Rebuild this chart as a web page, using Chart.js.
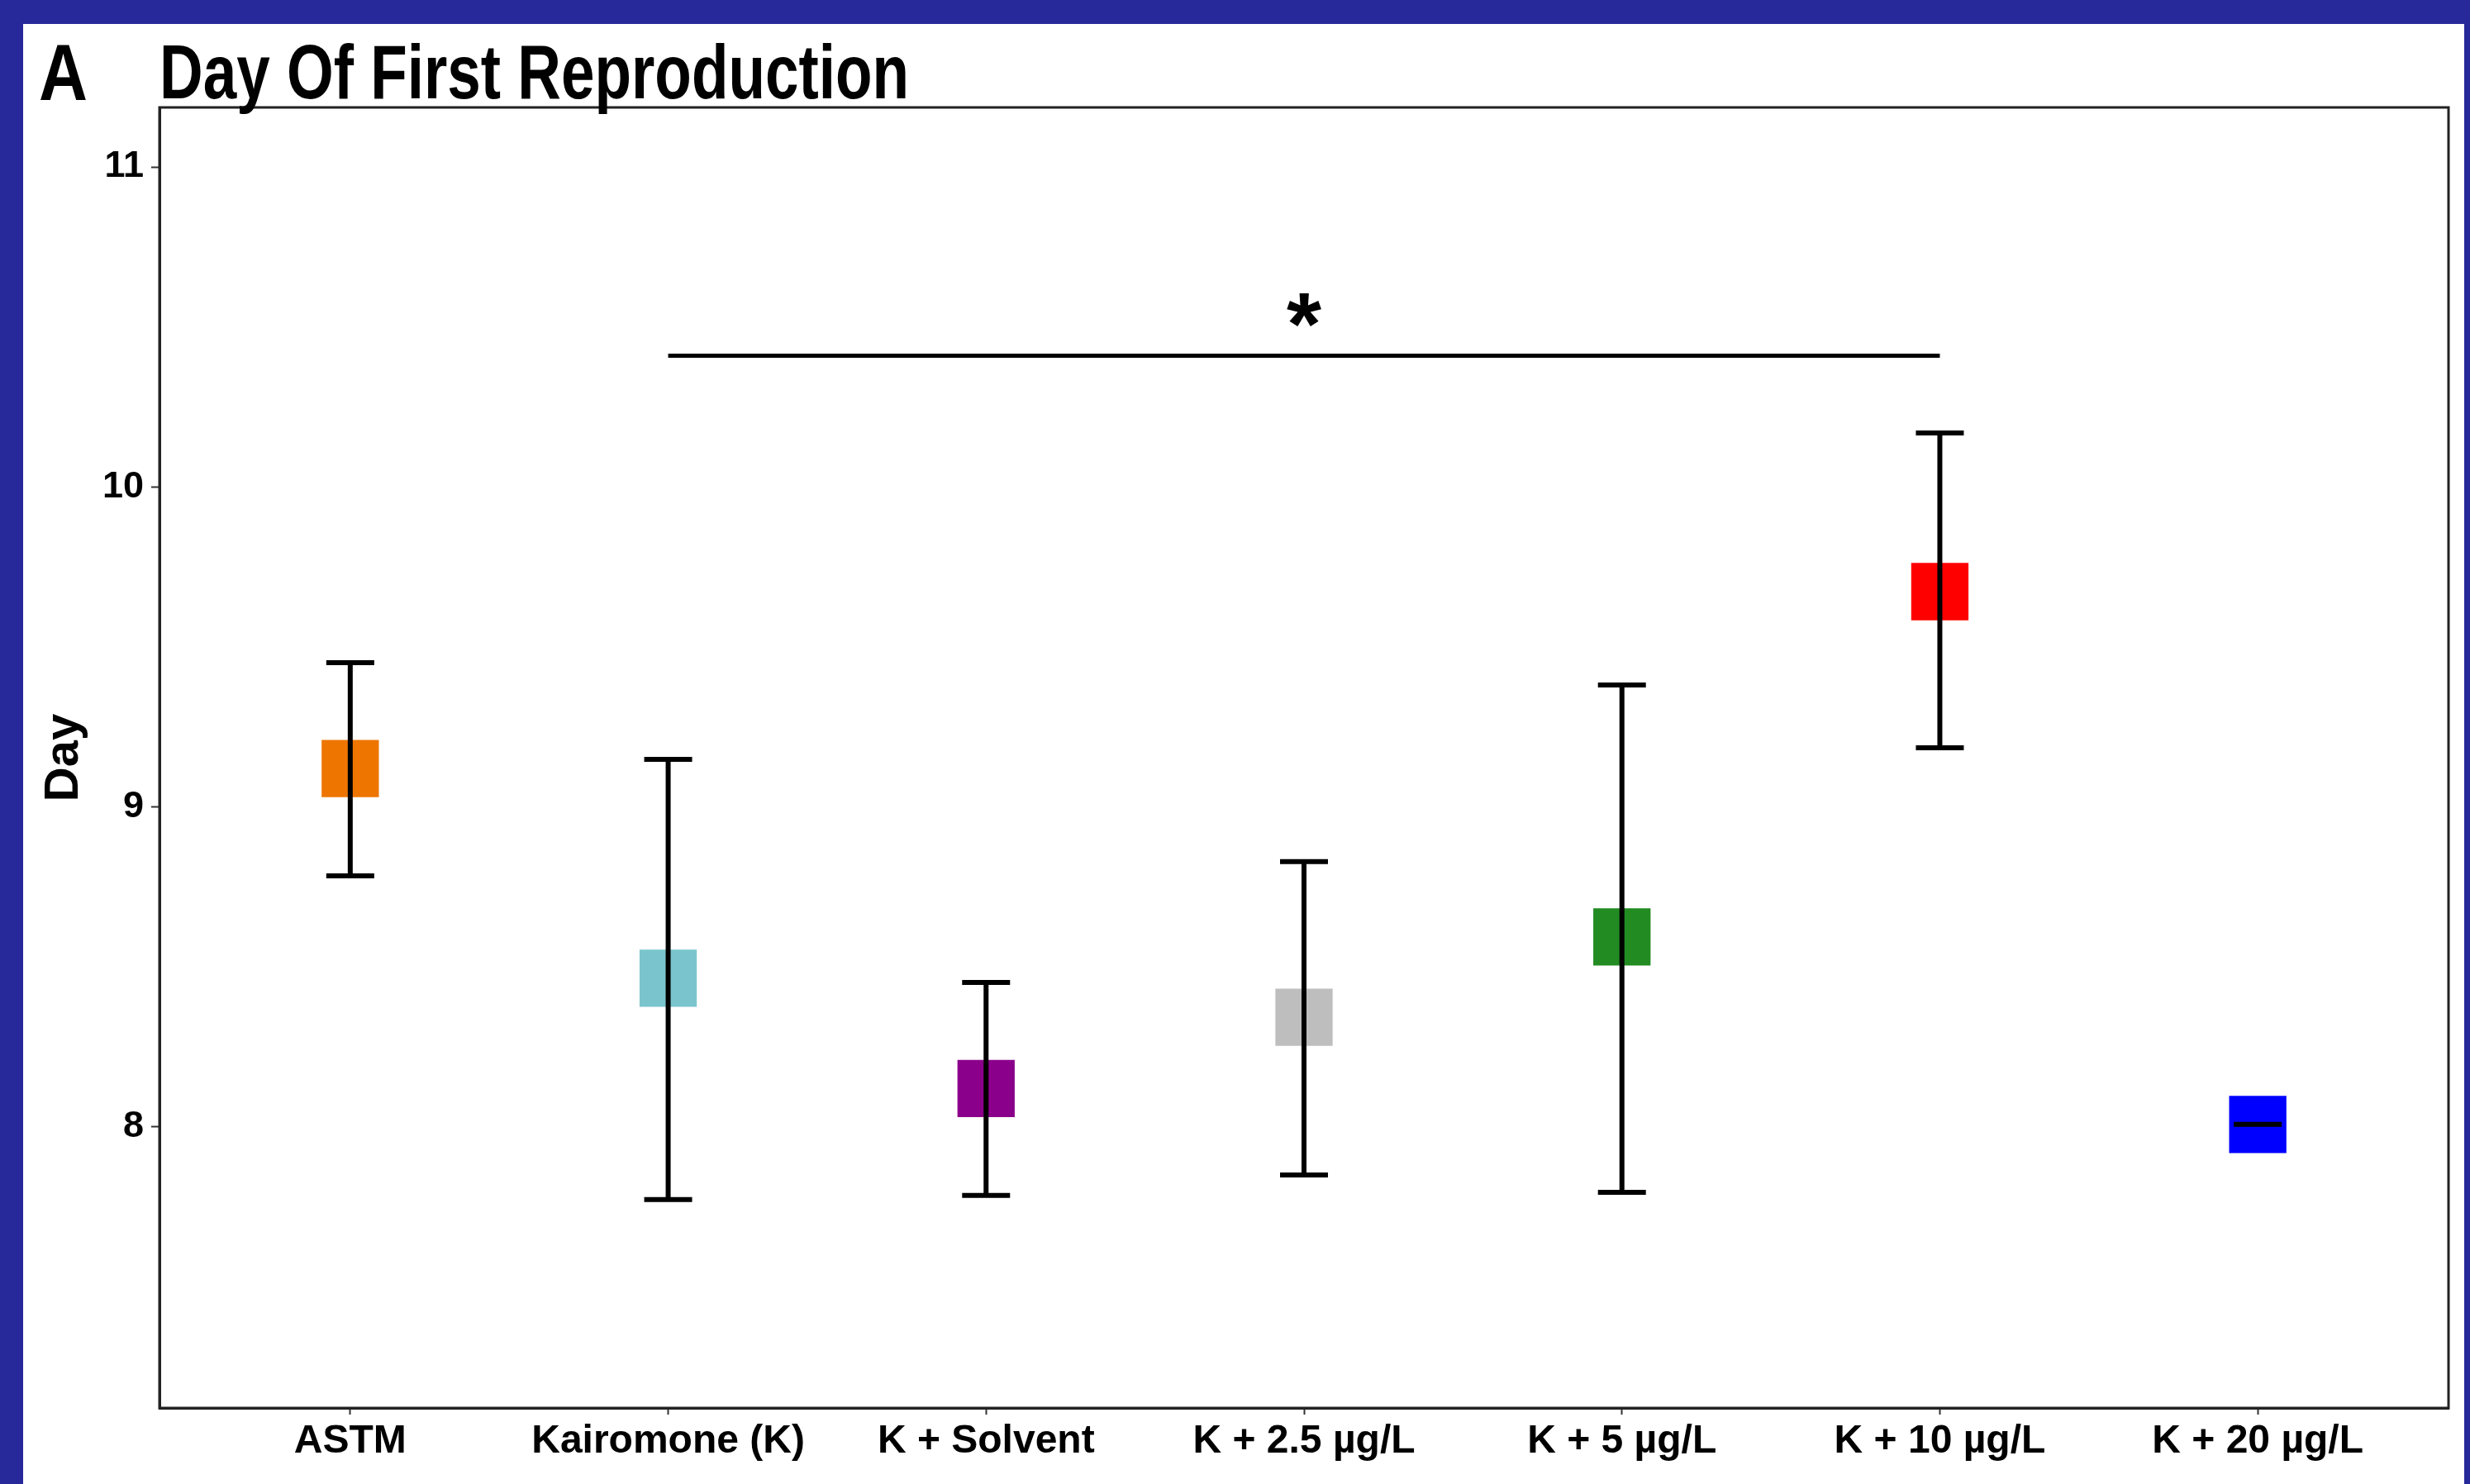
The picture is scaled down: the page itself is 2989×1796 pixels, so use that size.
<!DOCTYPE html>
<html>
<head>
<meta charset="utf-8">
<script src="https://cdn.jsdelivr.net/npm/chart.js@4"></script>
<style>
  html, body { margin: 0; padding: 0; background: #27289a; }
  body { width: 2989px; height: 1796px; position: relative; overflow: hidden; }
  #panel { position: absolute; left: 28px; top: 29px; width: 2954px; height: 1767px; background: #fff; }
  canvas { display: block; }
</style>
</head>
<body>
<div id="panel"><canvas id="myChart" width="2954" height="1767"></canvas></div>
<script>
const groups = ["ASTM", "Kairomone (K)", "K + Solvent", "K + 2.5 µg/L", "K + 5 µg/L", "K + 10 µg/L", "K + 20 µg/L"];
const meanDay = [9.12, 8.465, 8.12, 8.343, 8.594, 9.673, 8.008];
const lowerDay = [8.785, 7.773, 7.786, 7.85, 7.796, 9.185, 8.008];
const upperDay = [9.451, 9.149, 8.452, 8.829, 9.381, 10.169, 8.008];
const groupColors = ["#ee7600", "#7ac5cd", "#8b008b", "#bebebe", "#228b22", "#ff0000", "#0000ff"];
const yTicks = [8, 9, 10, 11];

// significance bracket between Kairomone (K) and K + 10 µg/L
const sigFrom = 1;
const sigTo = 5;
const sigY = 10.41;
const starY = 10.553;

const tickFont = { family: "Liberation Sans, Arial, sans-serif", weight: "bold" };

// draw text squeezed to a given width (the original uses a condensed face)
function fitText(ctx, text, x, y, width) {
  const w = ctx.measureText(text).width;
  ctx.save();
  ctx.translate(x, y);
  ctx.scale(Math.min(1, width / w), 1);
  ctx.fillText(text, 0, 0);
  ctx.restore();
}

const extras = {
  id: "extras",
  afterDatasetsDraw(chart) {
    const { ctx, scales: { x, y } } = chart;
    ctx.save();
    // error bars
    ctx.strokeStyle = "#000";
    ctx.lineWidth = 6;
    meanDay.forEach((m, i) => {
      const px = x.getPixelForValue(i);
      const top = y.getPixelForValue(upperDay[i]);
      const bot = y.getPixelForValue(lowerDay[i]);
      ctx.beginPath();
      ctx.moveTo(px, top);
      ctx.lineTo(px, bot);
      ctx.moveTo(px - 29, top);
      ctx.lineTo(px + 29, top);
      ctx.moveTo(px - 29, bot);
      ctx.lineTo(px + 29, bot);
      ctx.stroke();
    });
    // star
    ctx.fillStyle = "#000";
    ctx.font = "bold 108px Liberation Sans, Arial, sans-serif";
    ctx.textAlign = "center";
    ctx.textBaseline = "alphabetic";
    const m = ctx.measureText("*");
    const sx = x.getPixelForValue((sigFrom + sigTo) / 2);
    const sy = y.getPixelForValue(starY);
    ctx.fillText("*", sx, sy + (m.actualBoundingBoxAscent - m.actualBoundingBoxDescent) / 2);
    ctx.restore();
  },
  afterDraw(chart) {
    const { ctx, chartArea } = chart;
    ctx.save();
    ctx.strokeStyle = "#222";
    ctx.lineWidth = 3;
    ctx.strokeRect(chartArea.left, chartArea.top, chartArea.right - chartArea.left, chartArea.bottom - chartArea.top);
    ctx.fillStyle = "#000";
    ctx.textBaseline = "alphabetic";
    ctx.textAlign = "left";
    ctx.font = 'bold 97px "Liberation Sans Narrow", "Liberation Sans", sans-serif';
    fitText(ctx, "A", 19, 92, 59);
    ctx.font = 'bold 92px "Liberation Sans Narrow", "Liberation Sans", sans-serif';
    fitText(ctx, "Day Of First Reproduction", 165, 90, 907);
    ctx.restore();
  }
};

const config = {
  type: "scatter",
  data: {
    datasets: [
      {
        label: "Day",
        data: meanDay.map((v, i) => ({ x: i, y: v })),
        pointStyle: "rect",
        pointRadius: 49,
        pointHoverRadius: 49,
        pointBackgroundColor: groupColors,
        pointBorderWidth: 0,
      },
      {
        type: "line",
        label: "significance",
        data: [{ x: sigFrom, y: sigY }, { x: sigTo, y: sigY }],
        borderColor: "#000",
        borderWidth: 5,
        pointRadius: 0,
      },
    ],
  },
  options: {
    responsive: false,
    animation: false,
    events: [],
    layout: { autoPadding: false, padding: { top: 101, right: 19, left: 0, bottom: 0 } },
    plugins: {
      legend: { display: false },
      tooltip: { enabled: false },
    },
    scales: {
      x: {
        type: "linear",
        min: -0.6,
        max: 6.6,
        afterBuildTicks: (s) => { s.ticks = groups.map((g, i) => ({ value: i })); },
        afterFit: (s) => { s.height = 92; s.paddingLeft = 0; s.paddingRight = 0; },
        grid: { display: true, drawOnChartArea: false, drawTicks: true, tickLength: 8, tickWidth: 2, tickColor: "#333" },
        border: { display: true, color: "#222", width: 3 },
        ticks: {
          autoSkip: false,
          maxRotation: 0,
          padding: 4,
          color: "#000",
          font: { ...tickFont, size: 48 },
          callback: (v) => groups[v],
        },
      },
      y: {
        min: 7.122,
        max: 11.186,
        afterBuildTicks: (s) => { s.ticks = yTicks.map((v) => ({ value: v })); },
        afterFit: (s) => { s.width = 165; s.paddingTop = 0; s.paddingBottom = 0; },
        grid: { display: true, drawOnChartArea: false, drawTicks: true, tickLength: 10, tickWidth: 2, tickColor: "#333" },
        border: { display: true, color: "#222", width: 3 },
        ticks: {
          padding: 9,
          color: "#000",
          font: { ...tickFont, size: 45 },
        },
        title: {
          display: true,
          text: "Day",
          color: "#000",
          font: { ...tickFont, size: 58 },
          padding: { top: 15, bottom: 0 },
        },
      },
    },
  },
  plugins: [extras],
};

const myChart = new Chart(document.getElementById("myChart"), config);
</script>
</body>
</html>
